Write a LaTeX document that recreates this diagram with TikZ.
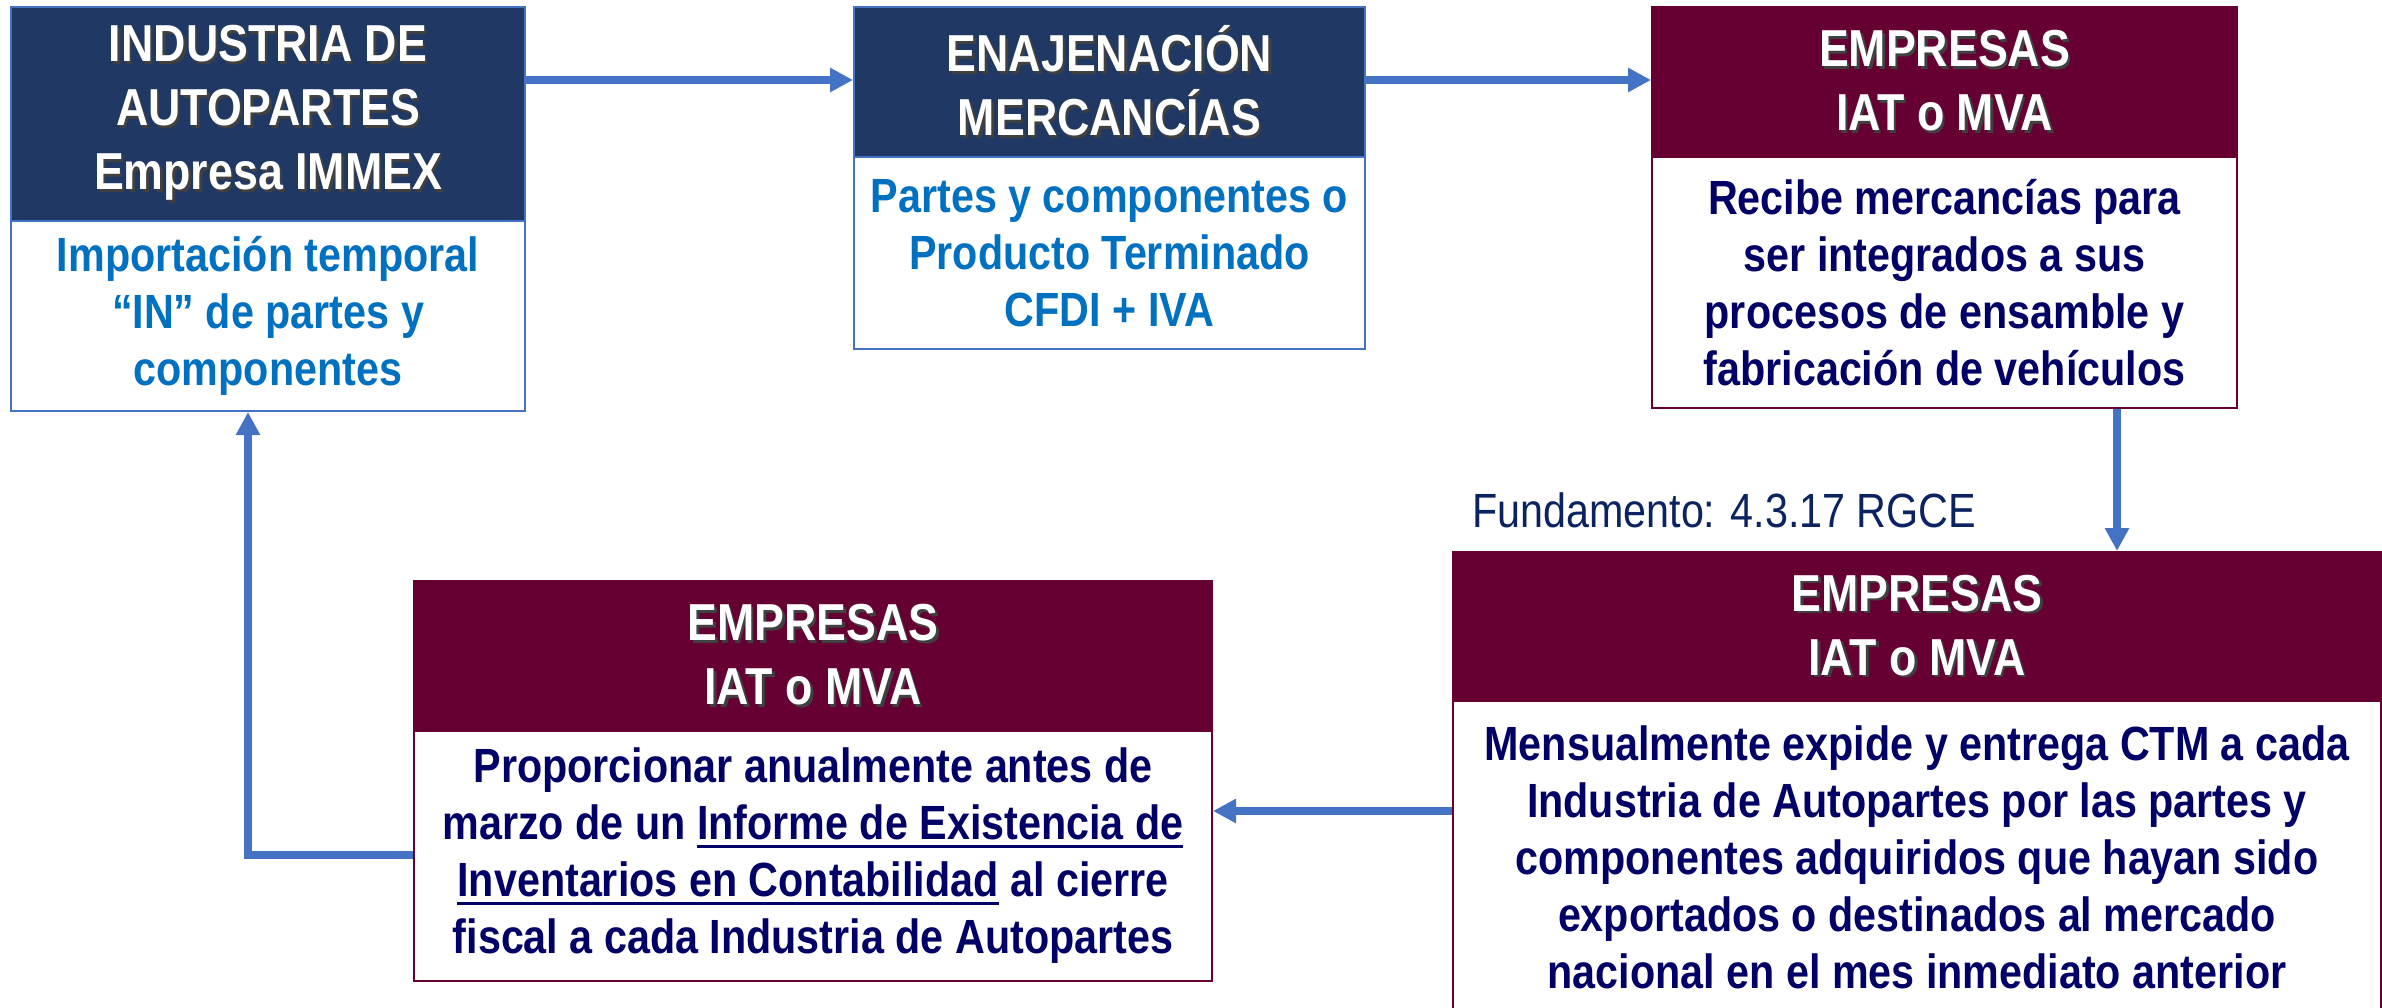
\documentclass[tikz,border=0pt]{standalone}
\usepackage{fontspec}
\setmainfont{Liberation Sans}[FakeStretch=0.86]
\usetikzlibrary{arrows.meta}
\definecolor{navyhdr}{HTML}{203864}
\definecolor{maroonhdr}{HTML}{660033}
\definecolor{bluetxt}{HTML}{0070C0}
\definecolor{navytxt}{HTML}{000066}
\definecolor{arrowblue}{HTML}{4472C4}
\definecolor{fundtxt}{HTML}{0B2461}
\newcommand\myul[1]{\vtop{\hbox{#1}\kern5pt\hrule height 3pt}}
\newcommand\shd[1]{\makebox[0pt][l]{\hspace{2.5pt}\raisebox{-2.5pt}{\textcolor{black!75}{#1}}}#1}
\begin{document}
\begin{tikzpicture}[x=1pt,y=-1pt,
  boxbase/.style={rectangle, anchor=north west, inner sep=0pt, align=center, line width=2pt},
  bluehdr/.style={boxbase, fill=navyhdr, draw=arrowblue, text=white, font=\bfseries\fontsize{52}{64}\selectfont},
  bluebody/.style={boxbase, fill=white, draw=arrowblue, text=bluetxt, font=\bfseries\fontsize{48}{57}\selectfont},
  redhdr/.style={boxbase, fill=maroonhdr, draw=maroonhdr, text=white, font=\bfseries\fontsize{52}{64}\selectfont},
  redbody/.style={boxbase, fill=white, draw=maroonhdr, text=navytxt, font=\bfseries\fontsize{48}{57}\selectfont},
  arr/.style={draw=arrowblue, line width=8pt, -{Triangle[length=23pt,width=23pt]}}]
\clip (0,0) rectangle (2382,1007);
\fill[white] (0,0) rectangle (2382,1007);

% Box 1
\node[bluehdr, minimum width=514pt, minimum height=214pt] (h1) at (10,6)
  {\shd{INDUSTRIA DE}\\\shd{AUTOPARTES}\\\shd{Empresa IMMEX}};
\node[bluebody, minimum width=514pt, minimum height=190pt] (b1) at (10,220)
  {Importación temporal\\“IN” de partes y\\componentes};

% Box 2
\node[bluehdr, minimum width=511pt, minimum height=150pt] (h2) at (853,6)
  {\shd{ENAJENACIÓN}\\\shd{MERCANCÍAS}};
\node[bluebody, minimum width=511pt, minimum height=192pt] (b2) at (853,156)
  {Partes y componentes o\\Producto Terminado\\CFDI + IVA};

% Box 3
\node[redhdr, minimum width=585pt, minimum height=150pt] (h3) at (1651,6)
  {\shd{EMPRESAS}\\\shd{IAT o MVA}};
\node[redbody, minimum width=585pt, minimum height=251pt] (b3) at (1651,156)
  {Recibe mercancías para\\ser integrados a sus\\procesos de ensamble y\\fabricación de vehículos};

% Fundamento
\node[anchor=base west, inner sep=0pt, text=fundtxt, font=\fontsize{48}{56}\selectfont] (fund) at (1472,527)
  {Fundamento: 4.3.17 RGCE};

% Box 4
\node[redhdr, minimum width=928pt, minimum height=149pt] (h4) at (1452,551)
  {\shd{EMPRESAS}\\\shd{IAT o MVA}};
\node[redbody, minimum width=928pt, minimum height=312pt] (b4) at (1452,700)
  {Mensualmente expide y entrega CTM a cada\\Industria de Autopartes por las partes y\\componentes adquiridos que hayan sido\\exportados o destinados al mercado\\nacional en el mes inmediato anterior};

% Box 5
\node[redhdr, minimum width=798pt, minimum height=150pt] (h5) at (413,580)
  {\shd{EMPRESAS}\\\shd{IAT o MVA}};
\node[redbody, minimum width=798pt, minimum height=250pt] (b5) at (413,730)
  {Proporcionar anualmente antes de\\marzo de un \myul{Informe de Existencia de}\\\myul{Inventarios en Contabilidad} al cierre\\fiscal a cada Industria de Autopartes};

% Connectors
\draw[arr] ([yshift=-74pt]h1.north east) -- ([yshift=-74pt]h2.north west);
\draw[arr] ([yshift=-74pt]h2.north east) -- ([yshift=-74pt]h3.north west);
\draw[arr] ([xshift=466pt]b3.south west) -- ([xshift=466pt]b3.south west |- h4.north);
\draw[arr] ([yshift=-111pt]b4.north west) -- ([yshift=-111pt]b4.north west -| b5.east);
\draw[arr] ([yshift=-125pt]b5.north west) -| ([xshift=238pt]b1.south west);
\end{tikzpicture}
\end{document}
